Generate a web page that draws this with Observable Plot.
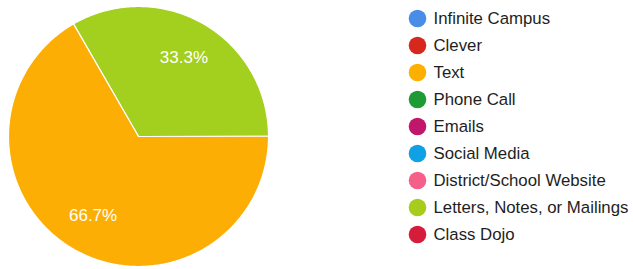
<!DOCTYPE html>
<html>
<head>
<meta charset="utf-8">
<script src="https://cdn.jsdelivr.net/npm/d3@7"></script>
<script src="https://cdn.jsdelivr.net/npm/@observablehq/plot@0.6"></script>
<style>
  html, body { margin: 0; padding: 0; background: #fff; }
  #wrap { position: relative; width: 634px; height: 269px; overflow: hidden; }
  #pie { position: absolute; left: 0; top: 0; }
  #legend { position: absolute; left: 395px; top: 0; }
</style>
</head>
<body>
<div id="wrap"><div id="pie"></div><div id="legend"></div></div>
<script>
const categories = ["Infinite Campus", "Clever", "Text", "Phone Call", "Emails", "Social Media", "District/School Website", "Letters, Notes, or Mailings", "Class Dojo"];
const categoryColors = ["#4a8de6", "#d8281e", "#fdb000", "#1f9b35", "#c0176a", "#0fa0e6", "#f4608a", "#a8cc1c", "#d51c3a"];
const sliceNames = ["Letters, Notes, or Mailings", "Text"];
const sliceValues = [33.3, 66.7];
const sliceLabels = ["33.3%", "66.7%"];
const pieColors = ["#a3cf1e", "#fcae05"];

const FONT = "'Liberation Sans', Arial, Helvetica, sans-serif";

// pie geometry from d3.pie, in unit coordinates (scaled by Plot)
const arcs = d3.pie().sort(null).startAngle(-Math.PI / 6).endAngle(2 * Math.PI - Math.PI / 6)(sliceValues);
const polyPts = [];
const labelPts = [];
arcs.forEach((a, i) => {
  const name = sliceNames[i];
  polyPts.push({name, x: 0, y: 0});
  const n = Math.max(2, Math.ceil((a.endAngle - a.startAngle) / (Math.PI / 360)));
  for (let k = 0; k <= n; k++) {
    const t = a.startAngle + (a.endAngle - a.startAngle) * k / n;
    polyPts.push({name, x: Math.sin(t), y: Math.cos(t)});
  }
  polyPts.push({name, x: 0, y: 0});
  const m = (a.startAngle + a.endAngle) / 2;
  labelPts.push({label: sliceLabels[i], x: 0.7 * Math.sin(m), y: 0.7 * Math.cos(m)});
});

const pie = Plot.plot({
  width: 280, height: 269,
  marginLeft: 8, marginRight: 12, marginTop: 6, marginBottom: 3,
  x: {domain: [-1, 1], axis: null},
  y: {domain: [-1, 1], axis: null},
  color: {domain: sliceNames, range: pieColors},
  style: {fontFamily: FONT, background: "transparent"},
  marks: [
    Plot.line(polyPts, {x: "x", y: "y", z: "name", fill: "name", stroke: "#ffffff", strokeWidth: 1.2, strokeLinejoin: "round"}),
    Plot.text(labelPts, {x: "x", y: "y", text: "label", fill: "#ffffff", fontSize: 17})
  ]
});
document.getElementById("pie").appendChild(pie);

const legend = Plot.plot({
  width: 239, height: 269,
  margin: 0,
  x: {domain: [0, 1], range: [22, 230], axis: null},
  y: {type: "point", domain: categories, range: [15.5, 236.5], padding: 0, axis: null},
  color: {domain: categories, range: categoryColors},
  style: {fontFamily: FONT, background: "transparent"},
  marks: [
    Plot.dot(categories, {x: () => 0, y: d => d, fill: d => d, r: 8.8}),
    Plot.text(categories, {x: () => 0, y: d => d, text: d => d, dx: 16, textAnchor: "start", fill: "#1e1e1e", fontSize: 16.8})
  ]
});
document.getElementById("legend").appendChild(legend);
</script>
</body>
</html>
